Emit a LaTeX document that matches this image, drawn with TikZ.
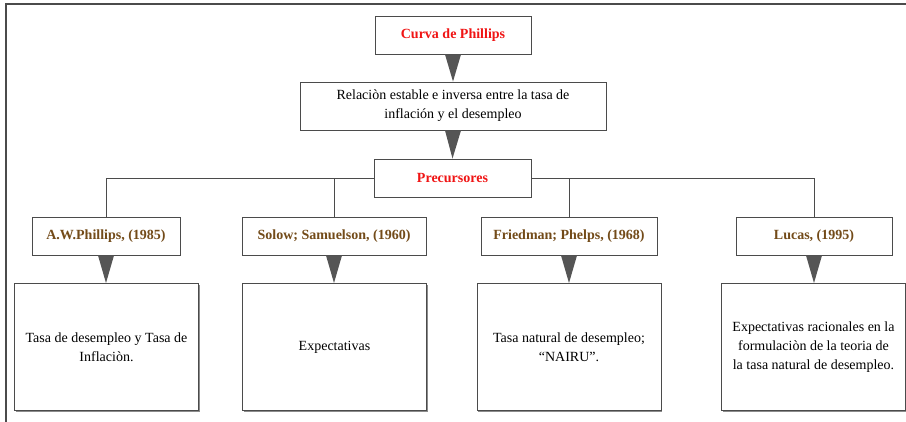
\documentclass[tikz,border=0pt]{standalone}
\usepackage{fontspec}
\setmainfont{Liberation Serif}
\usetikzlibrary{calc,shadows}
\definecolor{linec}{RGB}{75,75,75}
\definecolor{arrowc}{RGB}{85,85,85}
\definecolor{titlered}{RGB}{240,20,20}
\definecolor{brownc}{RGB}{115,75,25}
\tikzset{
  box/.style={draw=linec, line width=0.9pt, fill=white, align=center, inner sep=2pt,
    font=\fontsize{14}{19}\selectfont,
    drop shadow={shadow xshift=1.2pt, shadow yshift=-1.2pt, fill=black!45, opacity=1}},
  redtitle/.style={box, text=titlered, font=\fontsize{14}{19}\selectfont\bfseries},
  authorbox/.style={box, text=brownc, font=\fontsize{14}{19}\selectfont\bfseries},
  descbox/.style={box, minimum width=184pt, minimum height=127pt},
  conn/.style={draw=linec, line width=0.8pt},
  wedge/.style={fill=arrowc}
}
\begin{document}
\begin{tikzpicture}[x=1pt,y=-1pt]
\useasboundingbox (0,0) rectangle (906,422);
\draw[linec, line width=1.2pt] (6,422) -- (6,4) -- (906,4);

\node[redtitle, minimum width=156pt, minimum height=38pt] (cp) at (453,35) {Curva de Phillips};
\node[box, minimum width=306pt, minimum height=48pt] (rel) at (453,106)
  {Relaciòn estable e inversa entre la tasa de\\inflación y el desempleo};
\node[redtitle, minimum width=157pt, minimum height=38pt] (pre) at (452.5,178) {Precursores};

\node[authorbox, minimum width=148pt, minimum height=38pt] (a1) at (106,236) {A.W.Phillips, (1985)};
\node[authorbox, minimum width=184pt, minimum height=38pt] (a2) at (334,236) {Solow; Samuelson, (1960)};
\node[authorbox, minimum width=176pt, minimum height=38pt] (a3) at (569,236) {Friedman; Phelps, (1968)};
\node[authorbox, minimum width=156pt, minimum height=38pt] (a4) at (814,236) {Lucas, (1995)};

\node[descbox] (d1) at (106.5,347) {Tasa de desempleo y Tasa de\\Inflaciòn.};
\node[descbox] (d2) at (334.5,347) {Expectativas};
\node[descbox] (d3) at (569,347) {Tasa natural de desempleo;\\``NAIRU''.};
\node[descbox] (d4) at (813.5,347) {Expectativas racionales en la\\formulaciòn de la teoria de\\la tasa natural de desempleo.};

% tree connectors
\coordinate (hl) at (106,179);
\coordinate (hr) at (813,179);
\draw[conn] (a1.north) |- (pre.west);
\draw[conn] (a2.north) -- (a2.north |- hl);
\draw[conn] (a3.north) -- (a3.north |- hl);
\draw[conn] (a4.north) |- (pre.east);

% wedge arrows
\fill[wedge] ($(cp.south)+(-8,0)$) -- ($(cp.south)+(8,0)$) -- (rel.north) -- cycle;
\fill[wedge] ($(rel.south)+(-8,0)$) -- ($(rel.south)+(8,0)$) -- (pre.north) -- cycle;
\foreach \i in {1,2,3,4}{
  \fill[wedge] ($(a\i.south)+(-8,0)$) -- ($(a\i.south)+(8,0)$) -- (a\i.south |- d\i.north) -- cycle;
}
\end{tikzpicture}
\end{document}
